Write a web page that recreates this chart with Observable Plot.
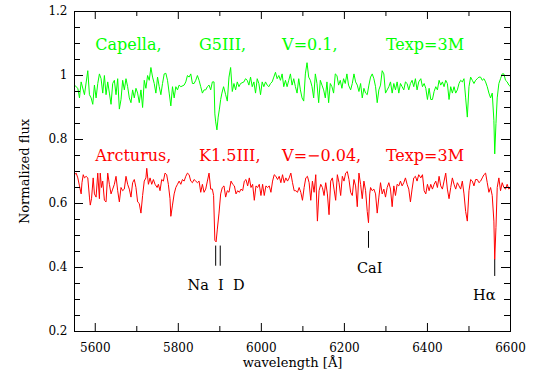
<!DOCTYPE html>
<html><head><meta charset="utf-8">
<script src="https://cdn.jsdelivr.net/npm/d3@7"></script>
<script src="https://cdn.jsdelivr.net/npm/@observablehq/plot@0.6"></script>
<style>body{margin:0;background:#fff;}</style>
</head><body><div id="chart"></div>
<script>
const capellaWl = [5550,5558,5562,5566,5574,5582,5586,5590,5594,5598,5602,5606,5610,5614,5618,5622,5626,5630,5634,5638,5642,5646,5650,5654,5658,5662,5666,5670,5674,5678,5682,5686,5690,5694,5698,5702,5706,5710,5714,5718,5722,5726,5730,5734,5738,5742,5746,5750,5754,5758,5762,5766,5770,5774,5778,5782,5786,5790,5794,5798,5802,5806,5814,5818,5822,5826,5830,5834,5838,5842,5846,5850,5854,5858,5862,5866,5870,5874,5878,5882,5886,5888,5890,5893,5896,5899,5902,5905,5909,5914,5918,5922,5926,5930,5934,5938,5942,5946,5950,5958,5962,5966,5970,5974,5978,5982,5986,5990,5994,5998,6002,6006,6010,6014,6018,6022,6026,6030,6034,6038,6042,6046,6050,6054,6058,6062,6066,6070,6074,6078,6082,6086,6090,6094,6098,6102,6106,6110,6114,6118,6122,6126,6130,6134,6138,6142,6146,6150,6154,6158,6162,6166,6170,6174,6178,6182,6186,6190,6194,6198,6202,6206,6210,6215,6219,6223,6227,6231,6235,6239,6243,6247,6251,6255,6259,6263,6267,6271,6275,6279,6283,6287,6291,6295,6299,6303,6307,6311,6315,6319,6323,6327,6331,6335,6339,6343,6347,6351,6355,6359,6363,6367,6371,6375,6379,6384,6388,6392,6396,6400,6404,6408,6412,6416,6420,6424,6428,6432,6436,6440,6444,6448,6452,6456,6460,6464,6468,6472,6476,6480,6484,6488,6492,6496,6500,6504,6508,6512,6516,6520,6524,6528,6532,6536,6540,6544,6548,6552,6556,6560,6562,6565,6568,6572,6576,6580,6584,6588,6592,6596,6600];
const capellaFlux = [0.97,0.96,0.93,0.98,0.94,1.015,0.94,0.93,0.91,0.97,0.93,0.975,1.005,0.99,0.945,1.0,0.94,0.98,0.945,0.91,0.975,0.985,0.94,0.99,0.895,0.925,0.985,0.955,0.99,0.965,0.93,0.915,0.955,0.93,0.96,0.945,0.915,0.955,0.9,0.985,0.96,1.0,0.985,1.025,0.995,0.975,0.945,0.995,0.965,0.94,0.975,1.005,1.007,0.985,0.945,0.905,0.965,0.93,0.965,0.955,0.97,0.965,0.97,0.98,1.0,0.995,1.005,0.975,0.975,0.985,1.0,0.985,0.965,0.945,0.955,0.955,0.965,0.97,0.955,0.98,0.98,0.88,0.855,0.83,0.87,0.895,0.925,0.945,0.965,0.94,0.92,0.995,1.025,0.95,0.975,0.955,0.98,0.965,0.975,0.98,0.99,0.985,0.97,0.995,0.965,0.98,0.945,0.99,0.975,0.94,0.98,0.965,0.98,0.97,0.965,0.975,0.98,0.995,1.01,0.99,1.0,0.985,1.005,0.965,0.985,0.965,0.985,1.005,0.97,0.99,0.965,0.945,0.99,0.955,0.93,0.92,1.005,1.04,0.995,0.985,0.965,0.93,1.005,0.975,0.915,0.985,0.97,0.955,0.93,0.98,0.915,0.975,0.965,0.945,1.005,1.0,0.97,0.985,0.96,0.99,0.975,1.005,0.97,0.955,0.975,1.005,0.98,0.97,0.95,0.975,0.93,0.96,0.945,0.94,0.97,0.995,1.005,0.99,0.965,0.915,0.955,0.97,1.015,1.005,0.945,0.955,0.965,0.98,0.945,0.975,0.955,0.98,0.945,0.975,0.965,0.955,0.98,0.975,0.955,0.975,0.985,0.965,0.99,0.955,0.98,0.99,0.965,0.975,0.96,0.925,0.96,0.925,0.925,0.95,0.965,0.955,0.985,0.97,0.98,0.965,0.985,0.975,0.925,0.965,0.945,0.965,0.945,0.955,0.975,0.985,0.98,0.99,0.93,0.87,0.965,0.995,0.985,0.975,0.985,0.99,0.995,0.995,0.985,0.99,0.98,0.965,0.945,0.93,0.945,0.86,0.755,0.85,0.93,0.975,0.99,1.005,1.005,0.985,0.98,0.97,0.965];
const arcturusWl = [5550,5554,5558,5562,5566,5568,5571,5574,5578,5582,5586,5588,5591,5595,5598,5602,5606,5610,5612,5615,5618,5622,5626,5630,5634,5638,5642,5646,5650,5654,5658,5662,5666,5670,5674,5678,5682,5686,5690,5694,5698,5702,5706,5710,5714,5718,5722,5724,5728,5732,5736,5740,5744,5749,5752,5756,5760,5764,5768,5772,5776,5780,5782,5786,5790,5794,5798,5802,5806,5810,5814,5818,5822,5826,5830,5834,5838,5842,5846,5850,5854,5858,5862,5866,5870,5874,5878,5882,5885,5888,5891,5894,5898,5902,5906,5910,5914,5918,5922,5927,5931,5935,5939,5943,5947,5951,5955,5959,5963,5967,5971,5975,5979,5983,5987,5991,5995,5999,6003,6007,6011,6015,6019,6023,6027,6031,6035,6039,6043,6047,6051,6055,6059,6063,6067,6071,6075,6079,6083,6087,6091,6095,6099,6103,6107,6111,6115,6119,6123,6127,6131,6135,6139,6143,6147,6151,6155,6159,6163,6167,6171,6175,6179,6183,6187,6191,6195,6199,6203,6207,6211,6215,6219,6223,6227,6231,6235,6239,6243,6247,6251,6255,6258,6261,6263,6267,6271,6275,6279,6283,6287,6291,6295,6299,6303,6307,6311,6315,6319,6323,6327,6331,6335,6339,6343,6347,6351,6355,6359,6363,6367,6371,6375,6379,6384,6388,6392,6396,6400,6404,6408,6412,6416,6420,6424,6428,6432,6436,6440,6444,6448,6452,6456,6460,6464,6468,6472,6476,6480,6484,6488,6492,6496,6500,6504,6508,6512,6516,6520,6524,6528,6532,6536,6540,6544,6548,6552,6556,6560,6562,6565,6568,6572,6576,6580,6584,6588,6592,6596,6600];
const arcturusFlux = [0.69,0.695,0.68,0.655,0.63,0.665,0.69,0.68,0.685,0.68,0.62,0.595,0.615,0.68,0.63,0.62,0.695,0.615,0.695,0.65,0.67,0.61,0.605,0.695,0.66,0.63,0.645,0.66,0.685,0.64,0.605,0.65,0.64,0.645,0.685,0.66,0.645,0.62,0.665,0.675,0.65,0.605,0.6,0.57,0.625,0.67,0.68,0.71,0.66,0.68,0.66,0.675,0.66,0.65,0.66,0.64,0.675,0.67,0.695,0.69,0.66,0.615,0.56,0.595,0.63,0.65,0.66,0.67,0.66,0.675,0.67,0.685,0.695,0.69,0.67,0.665,0.675,0.67,0.665,0.67,0.635,0.66,0.635,0.645,0.67,0.695,0.645,0.645,0.625,0.485,0.48,0.52,0.57,0.63,0.65,0.655,0.62,0.64,0.635,0.67,0.66,0.655,0.63,0.64,0.635,0.645,0.64,0.67,0.675,0.655,0.68,0.65,0.66,0.61,0.655,0.65,0.66,0.625,0.66,0.625,0.655,0.65,0.655,0.635,0.67,0.69,0.685,0.675,0.685,0.665,0.69,0.665,0.68,0.67,0.68,0.695,0.665,0.64,0.64,0.635,0.65,0.635,0.61,0.65,0.68,0.685,0.665,0.61,0.67,0.635,0.69,0.545,0.64,0.66,0.65,0.625,0.665,0.63,0.565,0.67,0.68,0.645,0.61,0.69,0.665,0.625,0.685,0.67,0.695,0.7,0.675,0.635,0.625,0.675,0.655,0.59,0.695,0.66,0.615,0.67,0.64,0.575,0.54,0.63,0.65,0.64,0.645,0.63,0.57,0.62,0.665,0.63,0.645,0.62,0.65,0.665,0.645,0.59,0.655,0.625,0.66,0.655,0.67,0.655,0.665,0.68,0.66,0.645,0.605,0.645,0.68,0.685,0.67,0.69,0.68,0.69,0.64,0.63,0.66,0.64,0.66,0.645,0.66,0.67,0.65,0.685,0.655,0.645,0.67,0.695,0.645,0.615,0.65,0.68,0.66,0.645,0.665,0.655,0.645,0.67,0.63,0.575,0.545,0.64,0.675,0.67,0.655,0.675,0.675,0.665,0.67,0.68,0.69,0.695,0.665,0.635,0.65,0.625,0.545,0.425,0.525,0.65,0.68,0.64,0.665,0.65,0.645,0.66,0.645,0.65];

const xMajorTicks = [5600,5800,6000,6200,6400,6600];
const xMinorTicks = [5700,5900,6100,6300,6500];
const yMajorTicks = [0.2,0.4,0.6,0.8,1,1.2];
const yMinorTicks = [0.25,0.3,0.35,0.45,0.5,0.55,0.65,0.7,0.75,0.85,0.9,0.95,1.05,1.1,1.15];

const capellaInfo = ["Capella,","G5III,","V=0.1,","Texp=3M"];
const arcturusInfo = ["Arcturus,","K1.5III,","V=\u22120.04,","Texp=3M"];
const infoWl = [5600,5850,6050,6300];
const capellaInfoFlux = 1.081;
const arcturusInfoFlux = 0.732;

const lineNames = ["Na\u00a0\u00a0I\u00a0\u00a0D","CaI","H\u03b1"];
const lineLabelWl = [5891,6261,6537];
const lineLabelFlux = [0.331,0.383,0.300];
const lineMarkWl = [5890,5901,6258,6562];
const lineMarkTop = [0.467,0.467,0.5125,0.424];
const lineMarkBottom = [0.404,0.404,0.460,0.372];

const capella = capellaWl.map((w,i)=>({w, f: capellaFlux[i]}));
const arcturus = arcturusWl.map((w,i)=>({w, f: arcturusFlux[i]}));
const lineMarks = lineMarkWl.map((w,i)=>({w, top: lineMarkTop[i], bottom: lineMarkBottom[i]}));

const chart = Plot.plot({
  width: 539, height: 385,
  marginLeft: 74, marginRight: 29, marginTop: 11, marginBottom: 54,
  x: {domain: [5550, 6600]},
  y: {domain: [0.2, 1.2]},
  style: {fontFamily: "DejaVu Serif", background: "#fff", color: "#000", overflow: "visible"},
  marks: [
    Plot.line(capella, {x: "w", y: "f", stroke: "#00ff00", strokeWidth: 1}),
    Plot.line(arcturus, {x: "w", y: "f", stroke: "#ff0000", strokeWidth: 1}),
    Plot.ruleX(lineMarks, {x: "w", y1: "bottom", y2: "top", stroke: "#000", strokeWidth: 1}),
    Plot.text(lineNames, {x: lineLabelWl, y: lineLabelFlux, text: d => d, lineAnchor: "bottom", fontSize: 14.5, fill: "#000"}),
    Plot.text(capellaInfo, {x: infoWl, y: capellaInfoFlux, text: d => d, textAnchor: "start", lineAnchor: "bottom", fontSize: 16, fill: "#00ff00"}),
    Plot.text(arcturusInfo, {x: infoWl, y: arcturusInfoFlux, text: d => d, textAnchor: "start", lineAnchor: "bottom", fontSize: 16, fill: "#ff0000"}),
    Plot.frame({stroke: "#000", strokeWidth: 1}),
    Plot.tickX(xMajorTicks, {x: d => d, insetTop: 312, stroke: "#000"}),
    Plot.tickX(xMinorTicks, {x: d => d, insetTop: 315, stroke: "#000"}),
    Plot.tickX(xMajorTicks, {x: d => d, insetBottom: 312, stroke: "#000"}),
    Plot.tickX(xMinorTicks, {x: d => d, insetBottom: 315, stroke: "#000"}),
    Plot.tickY(yMajorTicks, {y: d => d, insetRight: 427, stroke: "#000"}),
    Plot.tickY(yMinorTicks, {y: d => d, insetRight: 430, stroke: "#000"}),
    Plot.tickY(yMajorTicks, {y: d => d, insetLeft: 427, stroke: "#000"}),
    Plot.tickY(yMinorTicks, {y: d => d, insetLeft: 430, stroke: "#000"}),
    Plot.axisX(xMajorTicks, {tickSize: 0, tickPadding: 12, tickFormat: d => String(d), fontSize: 12, label: null}),
    Plot.axisY(yMajorTicks, {tickSize: 0, tickPadding: 7, tickFormat: d => String(d), fontSize: 12, label: null}),
    Plot.text(["wavelength [\u00c5]"], {frameAnchor: "bottom", lineAnchor: "middle", textAnchor: "middle", dy: 31, fontSize: 13, fill: "#000"}),
    Plot.text(["Normalized flux"], {frameAnchor: "left", lineAnchor: "middle", textAnchor: "middle", dx: -50, rotate: -90, fontSize: 13, fill: "#000"})
  ]
});
document.getElementById("chart").appendChild(chart);
</script>
</body></html>
